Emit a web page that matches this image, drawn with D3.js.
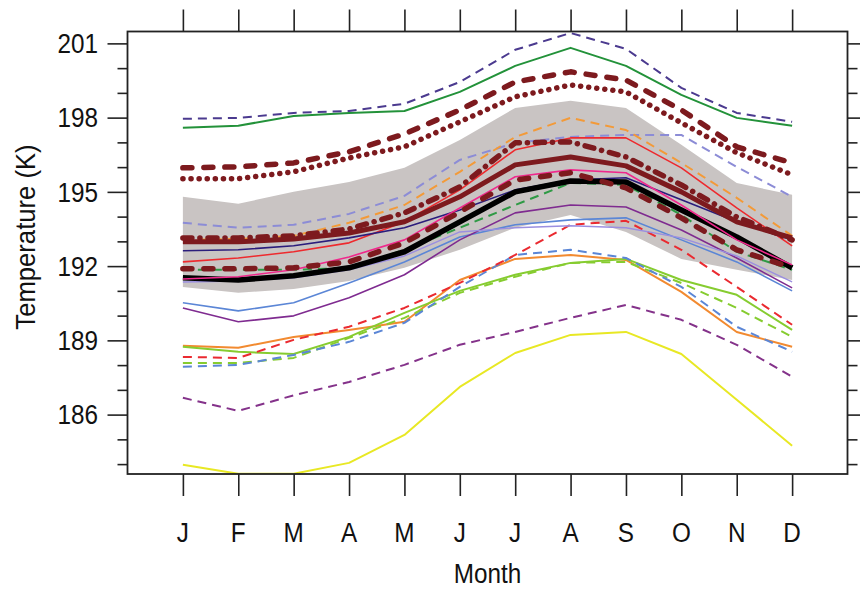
<!DOCTYPE html>
<html><head><meta charset="utf-8">
<script src="https://cdn.jsdelivr.net/npm/d3@7"></script>
<style>body{margin:0;background:#fff}</style></head>
<body><svg id="c" width="860" height="590"></svg>
<script>
// ---------- data ----------
const months = ["J","F","M","A","M","J","J","A","S","O","N","D"];
const yTickLabels = [186,189,192,195,198,201];
const yMinorTicks = [184,185,187,188,190,191,193,194,196,197,199,200];

const bandUpper = [194.80,194.52,195.00,195.40,195.97,197.10,198.39,198.68,198.39,196.90,195.36,194.88];
const bandLower = [191.16,190.92,191.08,191.40,191.93,192.66,193.55,194.07,193.38,192.29,191.85,191.44];

const dkBlueDashed   = [197.95,197.99,198.19,198.27,198.56,199.44,200.74,201.42,200.78,199.20,198.19,197.83];
const greenSolid     = [197.59,197.67,198.07,198.19,198.27,199.04,200.09,200.82,200.09,198.92,197.99,197.67];
const lavenderDashed = [193.75,193.55,193.67,194.11,194.84,196.29,196.98,197.22,197.30,197.30,196.01,194.80];
const orangeDashed   = [193.06,193.10,193.22,193.75,194.47,195.81,197.22,197.99,197.50,196.17,194.76,193.22];
const redSolid       = [192.17,192.33,192.58,192.94,193.79,195.08,196.70,197.18,197.18,195.97,194.35,192.82];
const pinkSolid      = [191.48,191.57,191.85,192.37,193.06,194.35,195.61,195.89,195.77,194.47,193.06,192.05];
const navySolid      = [192.62,192.66,192.82,193.14,193.55,194.27,195.08,195.48,195.57,194.68,193.79,193.06];
const dkGreenDashed  = [191.85,191.85,191.85,191.93,192.66,193.55,194.47,195.36,195.28,194.07,192.58,191.85];
const purpleSolid    = [190.31,189.75,189.99,190.72,191.65,193.06,194.15,194.47,194.39,193.46,192.33,191.12];
const blueSolid      = [190.52,190.19,190.52,191.32,192.17,193.18,193.67,193.87,193.95,193.06,192.17,191.00];
const lavenderSolid  = [191.36,191.40,191.53,191.85,192.41,193.38,193.55,193.63,193.55,193.14,192.41,191.36];
const redDashed      = [188.33,188.29,189.02,189.55,190.31,191.32,192.45,193.67,193.83,192.66,191.16,189.63];
const blueDashed     = [187.93,188.01,188.41,188.94,189.71,191.16,192.45,192.66,192.33,191.16,189.55,188.54];
const orangeSolid    = [188.78,188.70,189.14,189.42,189.75,191.44,192.29,192.45,192.25,190.96,189.34,188.74];
const ygreenSolid    = [188.74,188.54,188.45,189.14,190.11,191.00,191.65,192.13,192.29,191.44,190.84,189.42];
const ygreenDashed   = [188.09,188.09,188.29,189.10,189.91,190.92,191.57,192.13,192.17,191.32,190.31,189.14];
const purpleDashed   = [186.68,186.15,186.78,187.32,188.01,188.82,189.34,189.91,190.43,189.83,188.82,187.53];
const yellowSolid    = [183.97,183.61,183.61,184.05,185.18,187.12,188.49,189.22,189.34,188.45,186.60,184.74];
const maroonDashedHi = [195.97,196.01,196.17,196.62,197.34,198.31,199.44,199.85,199.52,198.31,196.82,196.17];
const maroonDotted   = [195.53,195.53,195.81,196.37,196.82,197.83,198.84,199.32,199.04,197.79,196.58,195.69];
const maroonDashDot  = [193.14,193.14,193.22,193.50,194.15,195.20,196.98,197.02,196.41,195.28,193.99,193.06];
const maroonSolid    = [192.98,192.98,193.10,193.34,193.79,194.80,196.09,196.41,196.05,195.00,193.79,193.14];
const maroonDashedLo = [191.89,191.89,191.93,192.17,192.94,194.19,195.48,195.77,195.16,193.95,192.66,191.93];
const blackSolid     = [191.53,191.44,191.61,191.93,192.58,193.79,195.00,195.44,195.40,194.27,193.18,191.93];

// ---------- styles (separate from data) ----------
const MAROON = "#7d1a1e";
const layers = [
  {v: purpleDashed,   c:"#84328a", w:2,   d:"9 6"},
  {v: yellowSolid,    c:"#e8e824", w:2},
  {v: orangeSolid,    c:"#f28a30", w:2},
  {v: ygreenSolid,    c:"#86cc30", w:2},
  {v: ygreenDashed,   c:"#86cc30", w:2,   d:"9 6"},
  {v: blueDashed,     c:"#5b86d6", w:2,   d:"9 6"},
  {v: redDashed,      c:"#ea2a30", w:2,   d:"9 6"},
  {v: blueSolid,      c:"#5b86d6", w:1.6},
  {v: purpleSolid,    c:"#7f2b90", w:1.6},
  {v: lavenderSolid,  c:"#9b8fe0", w:1.4},
  {v: dkGreenDashed,  c:"#2f9a45", w:2,   d:"9 6"},
  {v: lavenderDashed, c:"#8c8cd6", w:2,   d:"9 6"},
  {v: orangeDashed,   c:"#f39a38", w:2,   d:"9 6"},
  {v: redSolid,       c:"#ee2a2e", w:1.6},
  {v: navySolid,      c:"#2b1d7c", w:1.6},
  {v: greenSolid,     c:"#23923a", w:2},
  {v: dkBlueDashed,   c:"#4b3a8f", w:2,   d:"9 6"},
  {v: maroonDashedHi, c:MAROON, w:5.5, d:"9 12", cap:"round"},
  {v: maroonDotted,   c:MAROON, w:5.5, d:"0.1 8", cap:"round"},
  {v: maroonDashDot,  c:MAROON, w:5.5, d:"9 8 0.1 8", cap:"round"},
  {v: maroonSolid,    c:MAROON, w:5},
  {v: blackSolid,     c:"#000000", w:5.5},
  {v: pinkSolid,      c:"#f0288c", w:1.6},
  {v: maroonDashedLo, c:MAROON, w:5.5, d:"9 12", cap:"round"}
];

// ---------- layout ----------
const L = 127.5, R = 847.5, T = 31.5, B = 474;
const svg = d3.select("#c");
const x = d3.scaleLinear().domain([0, 13]).range([L, R]);
const y = d3.scaleLinear().domain([183.6, 201.48]).range([B, T]);
const FONT = "'Liberation Sans', Arial, Helvetica, sans-serif";

svg.append("defs").append("clipPath").attr("id","clip")
  .append("rect").attr("x",L).attr("y",T).attr("width",R-L).attr("height",B-T);

const plot = svg.append("g").attr("clip-path","url(#clip)");

// band
const area = d3.area().x((d,i)=>x(i+1)).y0((d,i)=>y(bandLower[i])).y1(d=>y(d));
plot.append("path").datum(bandUpper).attr("d", area).attr("fill","#c9c4c3");

const line = d3.line().x((d,i)=>x(i+1)).y(d=>y(d));
layers.forEach(s=>{
  plot.append("path").datum(s.v).attr("d", line)
    .attr("fill","none").attr("stroke", s.c).attr("stroke-width", s.w)
    .attr("stroke-dasharray", s.d || null)
    .attr("stroke-linecap", s.cap || "butt")
    .attr("stroke-linejoin","round");
});

// axes
const axCol = "#222";
const ax = svg.append("g");
function styleAxis(g){ g.select(".domain").remove(); g.selectAll("line").attr("stroke",axCol).attr("stroke-width",1.6); }
ax.append("g").attr("transform",`translate(${L},0)`)
  .call(d3.axisLeft(y).tickValues(yTickLabels).tickSize(20).tickFormat("")).call(styleAxis);
ax.append("g").attr("transform",`translate(${L},0)`)
  .call(d3.axisLeft(y).tickValues(yMinorTicks).tickSize(10).tickFormat("")).call(styleAxis);
ax.append("g").attr("transform",`translate(${R},0)`)
  .call(d3.axisRight(y).tickValues(yTickLabels).tickSize(20).tickFormat("")).call(styleAxis);
ax.append("g").attr("transform",`translate(${R},0)`)
  .call(d3.axisRight(y).tickValues(yMinorTicks).tickSize(10).tickFormat("")).call(styleAxis);
const monthIdx = months.map((m,i)=>i+1);
ax.append("g").attr("transform",`translate(0,${T})`)
  .call(d3.axisTop(x).tickValues(monthIdx).tickSize(22).tickFormat("")).call(styleAxis);
ax.append("g").attr("transform",`translate(0,${B})`)
  .call(d3.axisBottom(x).tickValues(monthIdx).tickSize(22).tickFormat("")).call(styleAxis);

// frame
svg.append("rect").attr("x",L).attr("y",T).attr("width",R-L).attr("height",B-T)
  .attr("fill","none").attr("stroke",axCol).attr("stroke-width",1.8);

// labels
const FS = 27, SX = 0.9;
yTickLabels.forEach(v=>{
  svg.append("text").attr("transform",`translate(98,${y(v)}) scale(${SX},1)`)
    .attr("text-anchor","end").attr("dy","0.36em")
    .attr("font-family",FONT).attr("font-size",FS).attr("fill","#111").text(v);
});
months.forEach((m,i)=>{
  svg.append("text").attr("transform",`translate(${x(i+1)},542) scale(${SX},1)`)
    .attr("text-anchor","middle")
    .attr("font-family",FONT).attr("font-size",FS).attr("fill","#111").text(m);
});
svg.append("text").attr("transform",`translate(${(L+R)/2},583) scale(${SX},1)`)
  .attr("text-anchor","middle").attr("font-family",FONT).attr("font-size",FS).attr("fill","#111").text("Month");
svg.append("text").attr("transform",`translate(35,237) rotate(-90) scale(0.95,1)`)
  .attr("text-anchor","middle").attr("font-family",FONT).attr("font-size",FS).attr("fill","#111").text("Temperature (K)");
</script></body></html>
